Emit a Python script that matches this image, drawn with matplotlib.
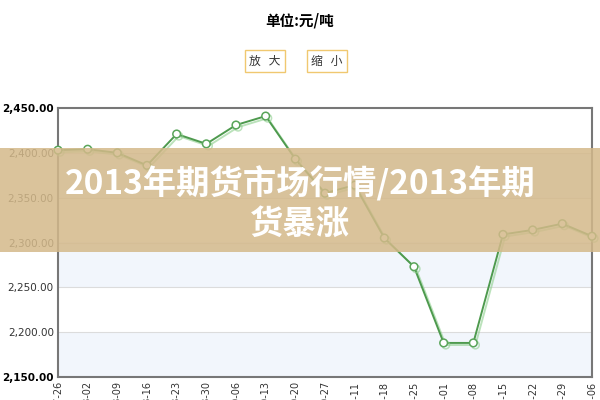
import matplotlib
matplotlib.use('Agg')
import matplotlib.pyplot as plt
import matplotlib.patheffects as pe
from matplotlib.patches import Rectangle

plt.rcParams['font.family'] = ['Noto Sans CJK SC', 'DejaVu Sans']

dates = ['07-26', '08-02', '08-09', '08-16', '08-23', '08-30', '09-06', '09-13',
         '09-20', '09-27', '10-11', '10-18', '10-25', '11-01', '11-08', '11-15',
         '11-22', '11-29', '12-06']
prices = [2403, 2404, 2400, 2386, 2421, 2410, 2431, 2441, 2393, 2355,
          2364, 2305, 2273, 2188, 2188, 2309, 2314, 2321, 2307]
yticks = [2150, 2200, 2250, 2300, 2350, 2400, 2450]

fig = plt.figure(figsize=(6, 4), dpi=100)
ax = fig.add_axes([58 / 600, 1 - 377 / 400, 534 / 600, 269 / 400])

# alternating bands
for i, lo in enumerate(yticks[:-1]):
    if i % 2 == 0:
        ax.axhspan(lo, lo + 50, color='#f2f6fc', zorder=0, lw=0)
for y in yticks[1:-1]:
    ax.axhline(y, color='#dcdcdc', lw=0.8, zorder=1)

x = list(range(len(dates)))
ax.plot(x, prices, color='#4e9a4e', lw=1.4, marker='o', ms=5.5,
        markerfacecolor='white', markeredgecolor='#5aa55a', markeredgewidth=1.1,
        zorder=3, clip_on=False,
        path_effects=[pe.SimpleLineShadow(offset=(1.5, -1.5), shadow_color='#8fd08f', alpha=0.6),
                      pe.Normal()])

ax.set_xlim(0, len(dates) - 1)
ax.set_ylim(2150, 2450)
ax.set_yticks(yticks)
ax.set_yticklabels(['{:,.2f}'.format(v) for v in yticks], family='DejaVu Sans', fontsize=7.5, color='#333333')
for lbl in (ax.get_yticklabels()[0], ax.get_yticklabels()[-1]):
    lbl.set_fontweight('bold')
    lbl.set_color('black')
ax.set_xticks(x)
ax.set_xticklabels(dates, rotation=90, family='DejaVu Sans', fontsize=7, color='#333333')
ax.tick_params(length=0, pad=3)
for s in ax.spines.values():
    s.set_color('#777777')
    s.set_linewidth(1.5)

# header
fig.text(0.5, 1 - 20 / 400, '单位:元/吨', ha='center', va='center', fontsize=10.5, fontweight='bold')
for cx, txt in [(265, '放   大'), (327, '缩   小')]:
    fig.text(cx / 600, 1 - 61 / 400, txt, ha='center', va='center', fontsize=8.5, color='#333333',
             bbox=dict(boxstyle='square,pad=0.4', fc='white', ec='#f0c870', lw=1))

# banner overlay
fig.patches.append(Rectangle((0, 1 - 252 / 400), 1, 104 / 400, transform=fig.transFigure,
                             fc='#d4b98a', alpha=0.85, zorder=5, lw=0))
fig.text(0.5, 1 - 184 / 400, '2013年期货市场行情/2013年期', ha='center', va='center',
         fontsize=24, fontweight='bold', color='white', zorder=6)
fig.text(0.5, 1 - 224 / 400, '货暴涨', ha='center', va='center',
         fontsize=24, fontweight='bold', color='white', zorder=6)

fig.savefig('out.png', dpi=100)
